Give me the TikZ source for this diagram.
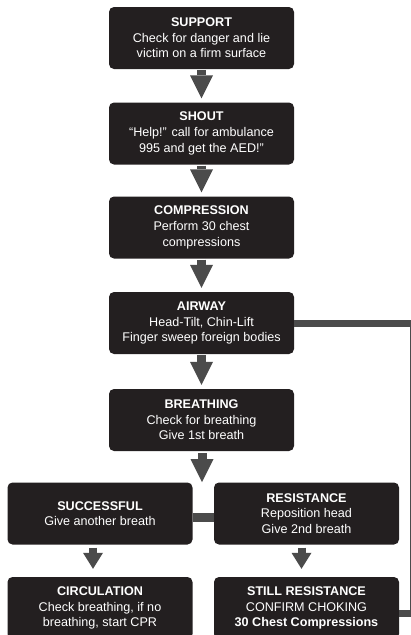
\documentclass[tikz,border=0pt]{standalone}
\usepackage{fontspec}
\setmainfont{Liberation Sans}
\usetikzlibrary{arrows.meta}
\definecolor{noirboite}{HTML}{231F20}
\definecolor{grisfleche}{HTML}{4B4B4B}
\begin{document}
\begin{tikzpicture}[x=1pt,y=-1pt,
	boite/.style={fill=noirboite, text=white, rounded corners=5pt, minimum width=185pt, minimum height=62pt, inner sep=0pt, align=center, font=\fontsize{12.6}{15.6}\selectfont},
	fleche/.style={draw=grisfleche, line width=9pt, -{Triangle[width=23pt,length=23pt,line width=0pt]}, shorten <=1pt, shorten >=4pt},
	petitefleche/.style={draw=grisfleche, line width=8pt, -{Triangle[width=20pt,length=16pt,line width=0pt]}, shorten <=3pt, shorten >=8pt},
	barre/.style={draw=grisfleche, line width=7pt}]
	\useasboundingbox (0,0) rectangle (410,635);
	%colonne principale
	\node[boite] (support) at (201.5,38) {\textbf{SUPPORT}\\Check for danger and lie\\victim on a firm surface};
	\node[boite] (shout) at (201.5,133.5) {\textbf{SHOUT}\\“Help!” call for ambulance\\995 and get the AED!”};
	\node[boite] (compression) at (201.5,227.5) {\textbf{COMPRESSION}\\Perform 30 chest\\compressions};
	\node[boite] (airway) at (201.5,323) {\textbf{AIRWAY}\\Head-Tilt, Chin-Lift\\Finger sweep foreign bodies};
	\node[boite] (breathing) at (201.5,420) {\textbf{BREATHING}\\Check for breathing\\Give 1st breath};
	%fin
	%les deux branches
	\node[boite] (successful) at (100,513.5) {\textbf{SUCCESSFUL}\\Give another breath};
	\node[boite] (resistance) at (306.5,513.5) {\textbf{RESISTANCE}\\Reposition head\\Give 2nd breath};
	\node[boite] (circulation) at (100,608) {\textbf{CIRCULATION}\\Check breathing, if no\\breathing, start CPR};
	\node[boite] (still) at (306.5,608) {\textbf{STILL RESISTANCE}\\CONFIRM CHOKING\\\textbf{30 Chest Compressions}};
	\coordinate (split) at (202,483);
	\coordinate (coinhaut) at (413.7,323.5);
	\coordinate (coinbas) at (413.7,613.5);
	%fin
	%fleches
	\draw[fleche] (support) -- (shout);
	\draw[fleche] (shout) -- (compression);
	\draw[fleche] (compression) -- (airway);
	\draw[fleche] (airway) -- (breathing);
	\draw[fleche, shorten <=2pt, shorten >=1pt] (breathing.south -| split) -- (split);
	\draw[petitefleche] ([xshift=-7pt]successful.south) -- ([xshift=-7pt]circulation.north);
	\draw[petitefleche] ([xshift=-5pt]resistance.south) -- ([xshift=-5pt]still.north);
	%barres
	\draw[barre, line width=9pt] ([yshift=-4pt]successful.east) -- ([yshift=-4pt]resistance.west);
	\draw[barre] (airway.east |- coinhaut) -- (coinhaut) -- (coinbas) -- (still.east |- coinbas);
\end{tikzpicture}
\end{document}
